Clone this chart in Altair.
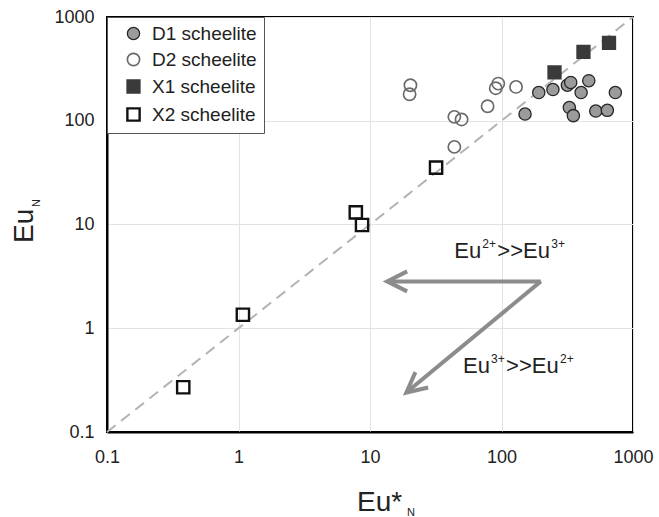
import altair as alt
import pandas as pd

# ---------------- data ----------------
series_names = ["D1 scheelite", "D2 scheelite", "X1 scheelite", "X2 scheelite"]

d1_x = [151, 192, 246, 317, 336, 403, 461, 734, 328, 352, 521, 638]
d1_y = [116, 187, 200, 220, 234, 187, 243, 187, 134, 112, 124, 126]

d2_x = [20.3, 20.0, 43.8, 49.7, 43.8, 78.4, 94.5, 90.4, 129]
d2_y = [220, 180, 109, 103, 56, 138, 228, 206, 212]

x1_x = [253, 420, 657]
x1_y = [292, 462, 564]

x2_x = [0.38, 1.08, 7.8, 8.7, 31.8]
x2_y = [0.27, 1.35, 13.1, 9.9, 35.3]

tick_values = [0.1, 1, 10, 100, 1000]
diag_vals = [0.1, 1000]

arrow_x0 = [199, 199]
arrow_y0 = [2.83, 2.83]
arrow_x1 = [13.5, 18.9]
arrow_y1 = [2.83, 0.24]
arrow_head_angle = [0, 320.5]

label_x = [43.8, 51.0]
label_y = [4.77, 0.374]
label_sup1 = ["2+", "3+"]
label_sup2 = ["3+", "2+"]

# ---------------- tables ----------------
rows = []
for name, xs, ys in zip(series_names, [d1_x, d2_x, x1_x, x2_x], [d1_y, d2_y, x1_y, x2_y]):
    for a, b in zip(xs, ys):
        rows.append({"series": name, "x": a, "y": b})
pts_df = pd.DataFrame(rows)
diag_df = pd.DataFrame({"x": diag_vals, "y": diag_vals})
arrow_df = pd.DataFrame({"x0": arrow_x0, "y0": arrow_y0, "x1": arrow_x1, "y1": arrow_y1,
                         "ang": arrow_head_angle})
label_df = pd.DataFrame({"x": label_x, "y": label_y, "sup1": label_sup1, "sup2": label_sup2})
one = pd.DataFrame({"k": [0]})

FONT = "Liberation Sans"
W, H = 526, 415
TXT = "#222222"
ARROW = "#8c8c8c"

xscale = alt.Scale(type="log", domain=[0.1, 1000], nice=False)
yscale = alt.Scale(type="log", domain=[0.1, 1000], nice=False)

xaxis = alt.Axis(values=tick_values, format="~g", title=None, grid=True, gridColor="#e3e3e3",
                 gridWidth=1, domainColor="black", domainWidth=2, ticks=False,
                 labelFont=FONT, labelFontSize=18, labelColor=TXT, labelPadding=16,
                 labelFlush=False, labelOverlap=False)
yaxis = alt.Axis(values=tick_values, format="~g", title=None, grid=True, gridColor="#e3e3e3",
                 gridWidth=1, domainColor="black", domainWidth=2, ticks=False,
                 labelFont=FONT, labelFontSize=18, labelColor=TXT, labelPadding=13,
                 labelFlush=False, labelOverlap=False)


def X(f):
    return alt.X(f, type="quantitative", scale=xscale, axis=xaxis)


def Y(f):
    return alt.Y(f, type="quantitative", scale=yscale, axis=yaxis)


diag = alt.Chart(diag_df).mark_line(stroke="#b3b3b3", strokeWidth=2, strokeDash=[11, 7]).encode(
    x=X("x"), y=Y("y"))

arrows = alt.Chart(arrow_df).mark_rule(stroke=ARROW, strokeWidth=4).encode(
    x=X("x0"), y=Y("y0"), x2="x1:Q", y2="y1:Q")

heads = alt.Chart(arrow_df).mark_point(shape="M 2 -1 L 0 0 L 2 1", size=400, filled=False,
                                       stroke=ARROW, strokeWidth=4, opacity=1,
                                       strokeJoin="miter").encode(
    x=X("x1"), y=Y("y1"), angle=alt.Angle("ang:Q", scale=None))

lab_base = alt.Chart(label_df).mark_text(text="Eu", font=FONT, fontSize=22, color=TXT,
                                         align="left", baseline="alphabetic").encode(
    x=X("x"), y=Y("y"))
lab_sup1 = alt.Chart(label_df).mark_text(font=FONT, fontSize=12, color=TXT, align="left",
                                         baseline="alphabetic", dx=28, dy=-10).encode(
    x=X("x"), y=Y("y"), text="sup1:N")
lab_mid = alt.Chart(label_df).mark_text(text=">>Eu", font=FONT, fontSize=22, color=TXT,
                                        align="left", baseline="alphabetic", dx=43).encode(
    x=X("x"), y=Y("y"))
lab_sup2 = alt.Chart(label_df).mark_text(font=FONT, fontSize=12, color=TXT, align="left",
                                         baseline="alphabetic", dx=97, dy=-10).encode(
    x=X("x"), y=Y("y"), text="sup2:N")

pts = alt.Chart(pts_df).mark_point(filled=True, opacity=1, size=150).encode(
    x=X("x"), y=Y("y"),
    shape=alt.Shape("series:N", title=None,
                    scale=alt.Scale(domain=series_names, range=["circle", "circle", "square", "square"])),
    fill=alt.Fill("series:N", title=None,
                  scale=alt.Scale(domain=series_names,
                                  range=["#9b9b9b", "transparent", "#3a3a3a", "transparent"])),
    stroke=alt.Stroke("series:N", title=None,
                      scale=alt.Scale(domain=series_names,
                                      range=["#262626", "#6a6a6a", "#3a3a3a", "#111111"])),
    strokeWidth=alt.StrokeWidth("series:N", title=None,
                                scale=alt.Scale(domain=series_names, range=[1.3, 2.4, 0.5, 2.4])),
)

ytitle = alt.Chart(one).mark_text(text="Eu", font=FONT, fontSize=28, color=TXT, angle=270,
                                  align="left", baseline="alphabetic").encode(
    x=alt.value(-74), y=alt.value(226))
ytitle_sub = alt.Chart(one).mark_text(text="N", font=FONT, fontSize=11, color=TXT, angle=270,
                                      align="left", baseline="alphabetic").encode(
    x=alt.value(-67), y=alt.value(190))
xtitle = alt.Chart(one).mark_text(text="Eu*", font=FONT, fontSize=28, color=TXT,
                                  align="left", baseline="alphabetic").encode(
    x=alt.value(250), y=alt.value(494))
xtitle_sub = alt.Chart(one).mark_text(text="N", font=FONT, fontSize=11, color=TXT,
                                      align="left", baseline="alphabetic").encode(
    x=alt.value(300), y=alt.value(499))

chart = alt.layer(
    diag, arrows, heads, lab_base, lab_sup1, lab_mid, lab_sup2, pts,
    ytitle, ytitle_sub, xtitle, xtitle_sub
).properties(
    width=W, height=H,
    padding={"left": 107, "top": 17, "right": 26, "bottom": 85},
    autosize=alt.AutoSizeParams(type="none"),
    background="white",
).configure_view(
    stroke="black", strokeWidth=2
).configure_legend(
    orient="none", legendX=0, legendY=0,
    labelFont=FONT, labelFontSize=19, labelColor=TXT,
    strokeColor="#555555", fillColor="white", padding=7,
    symbolOffset=10, labelOffset=9, rowPadding=6, symbolSize=150,
)

chart.save("out.html", embed_options={"renderer": "svg", "actions": False})
